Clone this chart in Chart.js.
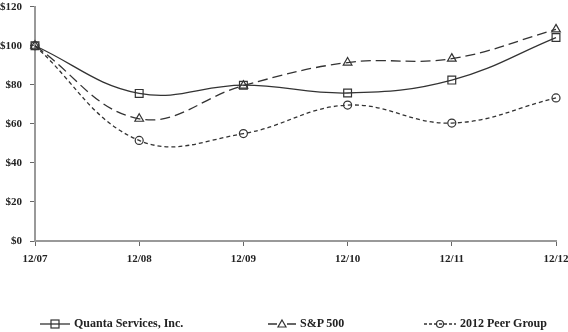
<!DOCTYPE html>
<html>
<head>
<meta charset="utf-8">
<script src="https://cdn.jsdelivr.net/npm/chart.js@4/dist/chart.umd.min.js"></script>
<style>
  body { margin: 0; background: #fff; }
  #wrap { position: relative; width: 568px; height: 332px; }
  #legend { position: absolute; left: 0; top: 316px; width: 568px; height: 16px;
            font: bold 12px "Liberation Serif", serif; color: #222; }
  .item { position: absolute; top: 0; display: flex; align-items: center; white-space: nowrap; }
  .item svg { margin-right: 4px; }
</style>
</head>
<body>
<div id="wrap">
  <canvas id="perfChart" width="568" height="332"></canvas>
  <div id="legend"></div>
</div>
<script>
const labels = ['12/07', '12/08', '12/09', '12/10', '12/11', '12/12'];
const quanta = [100, 75.6, 79.8, 75.8, 82.4, 104.2];
const sp500 = [100, 62.6, 79.6, 91.4, 93.4, 108.4];
const peerGroup = [100, 51.5, 55.0, 69.6, 60.4, 73.3];
const yTicks = [0, 20, 40, 60, 80, 100, 120];

const font = { family: 'Liberation Serif', size: 11, weight: 'bold' };
const ink = '#333';

const ctx = document.getElementById('perfChart').getContext('2d');

const data = {
    labels: labels,
    datasets: [
        {
            label: 'Quanta Services, Inc.',
            data: quanta,
            borderColor: ink,
            borderWidth: 1.3,
            pointStyle: 'rect',
            pointRadius: 5.5,
            pointBorderColor: ink,
            pointBackgroundColor: 'rgba(0,0,0,0)',
            pointBorderWidth: 1.2,
            tension: 0.4
        },
        {
            label: 'S&P 500',
            data: sp500,
            borderColor: ink,
            borderWidth: 1.3,
            borderDash: [10, 5],
            pointStyle: 'triangle',
            pointRadius: 5,
            pointBorderColor: ink,
            pointBackgroundColor: 'rgba(0,0,0,0)',
            pointBorderWidth: 1.2,
            tension: 0.4
        },
        {
            label: '2012 Peer Group',
            data: peerGroup,
            borderColor: ink,
            borderWidth: 1.3,
            borderDash: [4, 3],
            pointStyle: 'circle',
            pointRadius: 4,
            pointBorderColor: ink,
            pointBackgroundColor: 'rgba(0,0,0,0)',
            pointBorderWidth: 1.2,
            tension: 0.4
        }
    ]
};

const config = {
    type: 'line',
    data: data,
    options: {
        responsive: false,
        animation: false,
        layout: { padding: 0 },
        clip: false,
        scales: {
            x: {
                grid: { drawOnChartArea: false, tickLength: 5, color: '#666' },
                border: { color: '#999', width: 2 },
                ticks: { color: '#222', font: font, padding: 7, maxRotation: 0 },
                afterFit: (scale) => {
                    scale.height = 91;
                    scale.paddingRight = 12;
                    scale.paddingLeft = 0;
                }
            },
            y: {
                min: 0,
                max: 120,
                afterBuildTicks: (scale) => { scale.ticks = yTicks.map(v => ({ value: v })); },
                grid: { drawOnChartArea: false, tickLength: 5, color: '#666' },
                border: { color: '#999', width: 2 },
                ticks: {
                    color: '#222',
                    font: font,
                    padding: 8,
                    callback: (v) => '$' + v
                },
                afterFit: (scale) => {
                    scale.width = 35;
                    scale.paddingTop = 5;
                }
            }
        },
        plugins: {
            legend: { display: false },
            tooltip: { enabled: false }
        }
    }
};

const perfChart = new Chart(ctx, config);

// legend with line + marker samples
const legendItems = [
    { left: 40, width: 30, dash: '', marker: '<rect x="11" y="3" width="8" height="8" fill="none" stroke="#333" stroke-width="1.2"/>' },
    { left: 268, width: 28, dash: '9,10', marker: '<path d="M14 3 L18 10 L10 10 Z" fill="none" stroke="#333" stroke-width="1.2"/>' },
    { left: 424, width: 32, dash: '3,2', marker: '<circle cx="16" cy="7" r="3.5" fill="none" stroke="#333" stroke-width="1.2"/>' }
];
const legend = document.getElementById('legend');
data.datasets.forEach((ds, i) => {
    const it = legendItems[i];
    const div = document.createElement('div');
    div.className = 'item';
    div.style.left = it.left + 'px';
    div.innerHTML = '<svg width="' + it.width + '" height="14"><line x1="0" y1="7" x2="' + it.width + '" y2="7" stroke="#333" stroke-width="1.3"' +
        (it.dash ? ' stroke-dasharray="' + it.dash + '"' : '') + '/>' + it.marker + '</svg><span></span>';
    div.querySelector('span').textContent = ds.label;
    legend.appendChild(div);
});
</script>
</body>
</html>
